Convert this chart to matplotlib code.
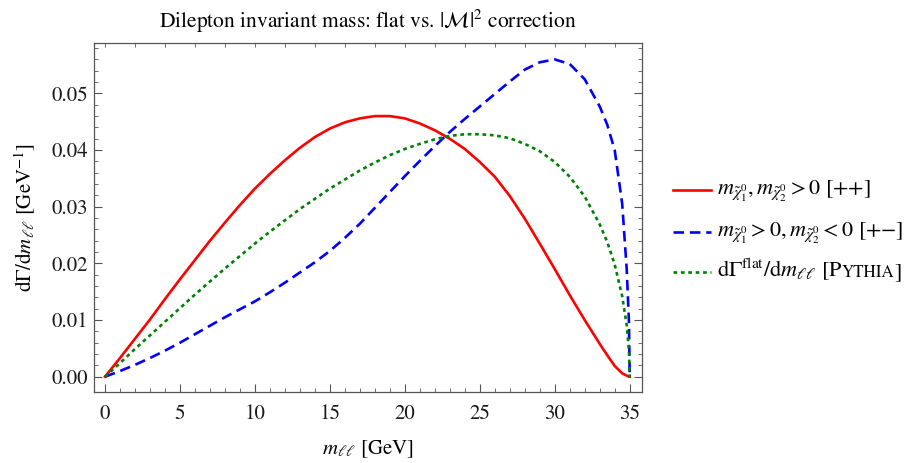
import numpy as np
import matplotlib
matplotlib.use('Agg')
from matplotlib import pyplot as plt
from matplotlib.lines import Line2D

plt.rcParams['font.family'] = 'STIXGeneral'
plt.rcParams['mathtext.fontset'] = 'stix'

# Data:

m_ll = np.array([0, 1, 2, 3, 4, 5, 6, 7, 8, 9, 10, 11, 12, 13, 14, 15, 16, 17, 18, 19, 20,
                 21, 22, 23, 24, 25, 26, 27, 28, 29, 30, 31, 32, 33, 33.5, 34, 34.5, 34.8, 34.95, 35])

dGamma_pp = np.array([0, 0.0033, 0.0067, 0.0101, 0.0137, 0.0172, 0.0206, 0.0240, 0.0272, 0.0303,
                      0.0332, 0.0358, 0.0382, 0.0404, 0.0423, 0.0438, 0.0449, 0.0456, 0.0460, 0.0460,
                      0.0456, 0.0447, 0.0435, 0.0420, 0.0402, 0.0379, 0.0353, 0.0319, 0.0279, 0.0235,
                      0.0190, 0.0144, 0.0100, 0.0058, 0.0038, 0.0019, 0.0006, 0.0002, 0.0, 0])

dGamma_pm = np.array([0, 0.0010, 0.0021, 0.0033, 0.0046, 0.0060, 0.0075, 0.0090, 0.0105, 0.0119,
                      0.0133, 0.0149, 0.0166, 0.0184, 0.0202, 0.0222, 0.0245, 0.0270, 0.0298, 0.0326,
                      0.0354, 0.0381, 0.0407, 0.0432, 0.0455, 0.0477, 0.0499, 0.0521, 0.0542, 0.0555,
                      0.0560, 0.0552, 0.0525, 0.0477, 0.0445, 0.0400, 0.0305, 0.0190, 0.0097, 0])

dGamma_flat = np.array([0, 0.0024, 0.0049, 0.0073, 0.0097, 0.0121, 0.0145, 0.0168, 0.0191, 0.0213,
                        0.0235, 0.0256, 0.0276, 0.0296, 0.0314, 0.0332, 0.0348, 0.0364, 0.0378, 0.0391,
                        0.0402, 0.0411, 0.0419, 0.0425, 0.0428, 0.0428, 0.0426, 0.0421, 0.0411, 0.0398,
                        0.0379, 0.0353, 0.0318, 0.0269, 0.0238, 0.0198, 0.0142, 0.0091, 0.0046, 0])

frame_col = '#555555'

fig = plt.figure(figsize=(9.22, 4.63), dpi=100)
ax = fig.add_axes([0.102, 0.1533, 0.5943, 0.7538])

ax.plot(m_ll, dGamma_pp, color='#ff0000', lw=1.9, solid_joinstyle='round')
ax.plot(m_ll, dGamma_pm, color='#0000ff', lw=1.9, dashes=(4, 2.2))
ax.plot(m_ll, dGamma_flat, color='#008000', lw=1.9, dashes=(1.4, 1.4))

ax.set_xlim(-0.73, 35.82)
ax.set_ylim(-0.0027, 0.0589)

ax.set_xticks(np.arange(0, 36, 5))
ax.set_xticks(np.arange(0, 36, 1), minor=True)
ax.set_yticks(np.arange(0, 0.051, 0.01))
ax.set_yticks(np.arange(0, 0.0581, 0.002), minor=True)
ax.set_yticklabels(['%.2f' % v for v in np.arange(0, 0.051, 0.01)])

ax.tick_params(which='both', direction='in', color=frame_col, labelsize=15, labelcolor='#1a1a1a',
               top=False, right=True)
ax.tick_params(which='major', length=6, width=0.8)
ax.tick_params(which='minor', length=3, width=0.6)
ax.tick_params(axis='x', pad=9)
ax.tick_params(axis='y', pad=4)

# top frame has its own small ticks every 2 GeV
top = ax.secondary_xaxis('top')
top.set_xticks(np.arange(0, 36, 2))
top.tick_params(direction='in', length=3, width=0.6, color=frame_col, labeltop=False)
top.spines['top'].set_visible(False)

for s in ax.spines.values():
    s.set_color(frame_col)
    s.set_linewidth(0.9)

ax.set_xlabel(r'$m_{\ell\ell}$ [GeV]', fontsize=15, labelpad=10)
ax.set_ylabel(r'd$\Gamma$/d$m_{\ell\ell}$ [GeV$^{-1}$]', fontsize=15, labelpad=10)
ax.set_title(r'Dilepton invariant mass: flat vs. $|\mathcal{M}|^2$ correction', fontsize=15.5, pad=11)

# legend drawn by hand (needs small caps for Pythia)
W, H = 922.0, 463.0
fs_leg = 16
rows = [(190, '#ff0000', None, r'$m_{\tilde{\chi}_1^0}, m_{\tilde{\chi}_2^0} > 0$ [++]'),
        (232, '#0000ff', (4, 2.2), r'$m_{\tilde{\chi}_1^0} > 0, m_{\tilde{\chi}_2^0} < 0$ [+$-$]'),
        (272, '#008000', (1.4, 1.4), None)]
for y, col, dash, lab in rows:
    ln = Line2D([673 / W, 711 / W], [1 - y / H, 1 - y / H], transform=fig.transFigure,
                color=col, lw=1.9)
    if dash is not None:
        ln.set_dashes(dash)
    fig.add_artist(ln)
    if lab is not None:
        fig.text(717 / W, 1 - (y + 5) / H, lab, fontsize=fs_leg, va='baseline')

# green label pieces: dGamma^flat/dm_ll [P + YTHIA (small caps) + ]
renderer = fig.canvas.get_renderer()
yb = 1 - (272 + 5) / H
t1 = fig.text(717 / W, yb, r'd$\Gamma^{\rm flat}$/d$m_{\ell\ell}$ [P', fontsize=fs_leg, va='baseline')
x1 = (t1.get_window_extent(renderer).x1 - 1.5) / W
t2 = fig.text(x1, yb, 'YTHIA', fontsize=fs_leg * 0.76, va='baseline')
x2 = (t2.get_window_extent(renderer).x1 + 0.5) / W
fig.text(x2, yb, ']', fontsize=fs_leg, va='baseline')

plt.savefig('out.png', dpi=100)
